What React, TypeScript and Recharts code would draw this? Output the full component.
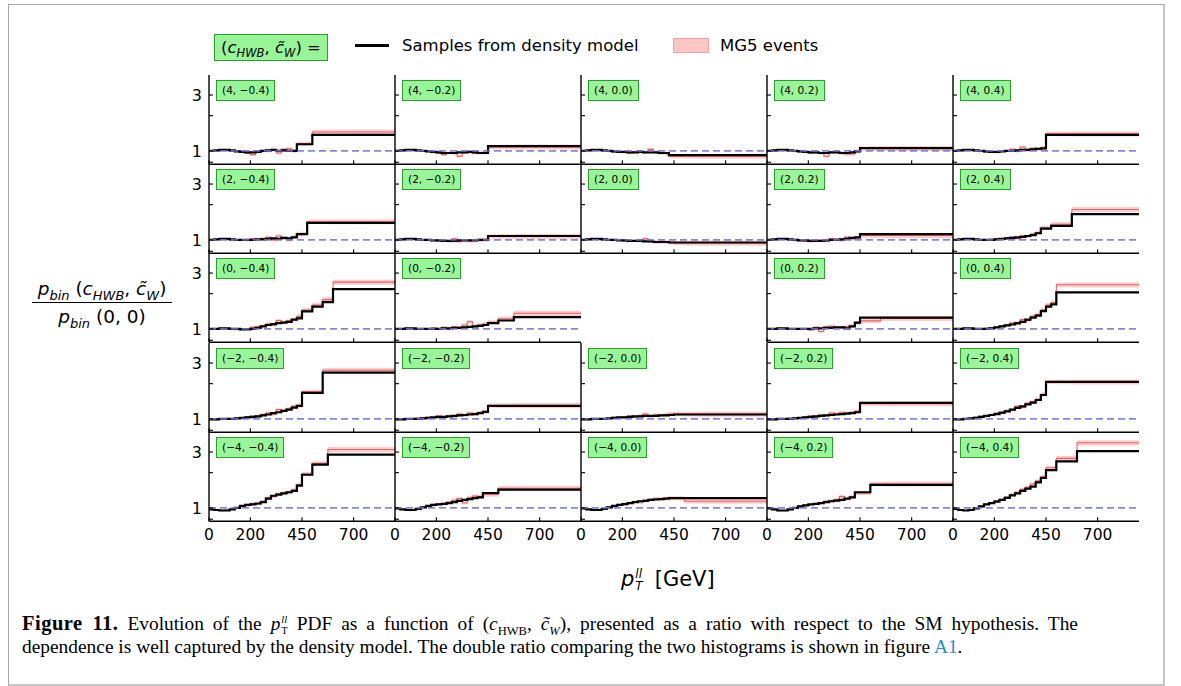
import React from 'react';
import { ComposedChart, Line, Area, XAxis, YAxis, ReferenceLine } from 'recharts';

// pT bin edges in GeV; the last bin runs up to the end of the axis
const binEdges = [0, 25, 50, 75, 100, 125, 150, 175, 200, 225, 250, 275, 300, 325, 350, 375, 400, 425, 450, 475, 500, 525, 550, 575, 600, 625];
const xMax = 900;
const xTicks = [0, 200, 450, 700];
const yTicks = [0.8, 1, 2, 3];
const yLabelled = [1, 3];
const yDomain: [number, number] = [0.77, 4.45];

const cHWBValues = [4, 2, 0, -2, -4];
const cWValues = [-0.4, -0.2, 0.0, 0.2, 0.4];

// relative MG5 statistical uncertainty per bin
const mg5RelErr = [0.02, 0.02, 0.02, 0.02, 0.02, 0.02, 0.02, 0.02, 0.025, 0.025, 0.025, 0.03, 0.03, 0.03, 0.035, 0.035, 0.035, 0.04, 0.04, 0.04, 0.045, 0.045, 0.045, 0.05, 0.05, 0.05];

// ratio to SM, per bin: density model samples and MG5 events
const model_4_m04 = [1.0, 1.01, 1.02, 1.02, 1.01, 0.99, 0.98, 0.97, 0.97, 0.98, 1.0, 1.01, 1.02, 1.0, 1.01, 1.0, 1.0, 1.14, 1.14, 1.14, 1.37, 1.37, 1.37, 1.37, 1.37, 1.37];
const mg5_4_m04 = [1.0, 1.01, 1.02, 1.01, 1.0, 0.99, 0.98, 0.96, 0.93, 0.97, 1.0, 1.0, 1.02, 0.96, 1.03, 1.04, 1.0, 1.15, 1.15, 1.15, 1.45, 1.45, 1.45, 1.45, 1.45, 1.45];
const model_4_m02 = [1.0, 1.01, 1.02, 1.02, 1.01, 1.0, 0.99, 0.98, 0.97, 0.96, 0.96, 0.96, 0.97, 0.97, 0.98, 0.97, 0.96, 0.96, 1.1, 1.1, 1.1, 1.1, 1.1, 1.1, 1.1, 1.1];
const mg5_4_m02 = [1.0, 1.01, 1.02, 1.01, 1.0, 1.0, 0.99, 0.97, 0.96, 0.93, 0.97, 0.95, 0.9, 0.97, 0.98, 0.96, 0.97, 0.97, 1.08, 1.08, 1.08, 1.08, 1.08, 1.08, 1.08, 1.08];
const model_4_00 = [1.0, 1.01, 1.02, 1.02, 1.01, 1.0, 0.99, 0.98, 0.98, 0.97, 0.97, 0.98, 0.97, 0.97, 0.97, 0.96, 0.96, 0.92, 0.92, 0.92, 0.92, 0.92, 0.92, 0.92, 0.92, 0.92];
const mg5_4_00 = [1.0, 1.01, 1.02, 1.01, 1.0, 0.99, 0.98, 0.98, 0.97, 0.96, 0.97, 0.99, 0.97, 1.03, 0.97, 0.96, 0.95, 0.9, 0.9, 0.9, 0.9, 0.9, 0.9, 0.9, 0.9, 0.9];
const model_4_p02 = [1.0, 1.01, 1.02, 1.02, 1.01, 1.0, 0.99, 0.98, 0.97, 0.97, 0.96, 0.96, 0.97, 0.97, 0.96, 0.96, 0.97, 0.99, 1.055, 1.055, 1.055, 1.055, 1.055, 1.055, 1.055, 1.055];
const mg5_4_p02 = [1.0, 1.01, 1.02, 1.01, 1.0, 0.99, 0.98, 0.98, 0.96, 0.97, 0.96, 0.9, 0.97, 0.98, 0.96, 0.94, 0.94, 0.99, 1.05, 1.05, 1.05, 1.05, 1.05, 1.05, 1.05, 1.05];
const model_4_p04 = [1.0, 1.01, 1.02, 1.02, 1.01, 1.0, 0.99, 0.98, 0.98, 0.99, 1.0, 1.0, 1.01, 1.02, 1.02, 1.03, 1.04, 1.05, 1.37, 1.37, 1.37, 1.37, 1.37, 1.37, 1.37, 1.37];
const mg5_4_p04 = [1.0, 1.01, 1.02, 1.01, 1.0, 0.99, 0.98, 0.98, 0.97, 1.0, 1.0, 1.03, 1.0, 1.08, 1.02, 1.05, 1.04, 1.06, 1.4, 1.4, 1.4, 1.4, 1.4, 1.4, 1.4, 1.4];

const model_2_m04 = [1.0, 1.01, 1.02, 1.02, 1.01, 1.0, 1.0, 1.0, 1.0, 1.01, 1.01, 1.02, 1.03, 1.02, 1.04, 1.03, 1.05, 1.12, 1.12, 1.4, 1.4, 1.4, 1.4, 1.4, 1.4, 1.4];
const mg5_2_m04 = [1.0, 1.01, 1.02, 1.01, 1.0, 1.0, 1.0, 0.99, 1.02, 1.01, 1.03, 1.05, 1.0, 1.08, 1.04, 1.0, 1.06, 1.13, 1.13, 1.43, 1.43, 1.43, 1.43, 1.43, 1.43, 1.43];
const model_2_m02 = [1.0, 1.01, 1.02, 1.02, 1.01, 1.0, 1.0, 0.99, 0.99, 0.98, 0.98, 0.98, 0.99, 0.99, 0.99, 0.99, 1.0, 1.0, 1.08, 1.08, 1.08, 1.08, 1.08, 1.08, 1.08, 1.08];
const mg5_2_m02 = [1.0, 1.01, 1.02, 1.01, 1.0, 1.0, 0.99, 0.99, 0.98, 0.99, 0.97, 1.02, 0.97, 0.99, 0.98, 0.99, 1.0, 1.0, 1.07, 1.07, 1.07, 1.07, 1.07, 1.07, 1.07, 1.07];
const model_2_00 = [1.0, 1.01, 1.02, 1.02, 1.01, 1.0, 1.0, 0.99, 0.99, 0.98, 0.98, 0.98, 0.97, 0.97, 0.96, 0.96, 0.96, 0.95, 0.95, 0.95, 0.95, 0.95, 0.95, 0.95, 0.95, 0.95];
const mg5_2_00 = [1.0, 1.01, 1.02, 1.01, 1.0, 1.0, 0.99, 0.99, 0.98, 0.98, 0.98, 1.0, 1.02, 0.97, 0.96, 0.96, 0.96, 0.95, 0.94, 0.94, 0.94, 0.94, 0.94, 0.94, 0.94, 0.94];
const model_2_p02 = [1.0, 1.01, 1.02, 1.02, 1.01, 1.0, 0.99, 0.99, 0.98, 0.98, 0.98, 0.99, 1.0, 1.0, 1.01, 1.02, 1.04, 1.05, 1.12, 1.12, 1.12, 1.12, 1.12, 1.12, 1.12, 1.12];
const mg5_2_p02 = [1.0, 1.01, 1.02, 1.01, 1.0, 0.99, 0.99, 0.98, 0.97, 0.98, 0.99, 0.98, 1.02, 1.01, 1.0, 1.05, 1.02, 1.04, 1.09, 1.09, 1.09, 1.09, 1.09, 1.09, 1.09, 1.09];
const model_2_p04 = [1.0, 1.01, 1.02, 1.02, 1.01, 1.0, 1.0, 1.0, 1.01, 1.02, 1.03, 1.04, 1.05, 1.06, 1.08, 1.1, 1.14, 1.25, 1.25, 1.32, 1.32, 1.32, 1.32, 1.66, 1.66, 1.66];
const mg5_2_p04 = [1.0, 1.01, 1.02, 1.01, 1.0, 1.0, 1.0, 1.01, 1.02, 1.01, 1.04, 1.05, 1.03, 1.08, 1.07, 1.12, 1.15, 1.27, 1.27, 1.36, 1.36, 1.36, 1.36, 1.82, 1.82, 1.82];

const model_0_m04 = [1.0, 1.0, 1.01, 1.01, 1.0, 1.0, 0.99, 0.99, 1.0, 1.02, 1.05, 1.08, 1.1, 1.12, 1.13, 1.15, 1.2, 1.23, 1.41, 1.41, 1.55, 1.55, 1.69, 1.69, 2.19, 2.19];
const mg5_0_m04 = [1.0, 1.0, 1.01, 1.0, 1.0, 0.99, 0.99, 1.0, 1.03, 1.04, 1.06, 1.1, 1.08, 1.18, 1.14, 1.17, 1.2, 1.28, 1.45, 1.45, 1.6, 1.6, 1.78, 1.78, 2.51, 2.51];
const model_0_m02 = [1.0, 1.0, 1.01, 1.01, 1.0, 1.0, 1.0, 1.0, 1.0, 1.01, 1.01, 1.02, 1.02, 1.03, 1.04, 1.05, 1.06, 1.08, 1.12, 1.12, 1.18, 1.18, 1.18, 1.26, 1.26, 1.26];
const mg5_0_m02 = [1.0, 1.0, 1.01, 1.0, 1.0, 1.0, 1.0, 1.02, 1.0, 1.03, 1.0, 1.04, 1.03, 1.08, 1.15, 1.05, 1.08, 1.1, 1.14, 1.14, 1.22, 1.22, 1.22, 1.36, 1.36, 1.36];
const model_0_p02 = [1.0, 1.0, 1.01, 1.01, 1.0, 1.0, 1.0, 1.0, 1.0, 1.01, 1.01, 1.02, 1.02, 1.03, 1.03, 1.01, 1.05, 1.13, 1.25, 1.25, 1.25, 1.25, 1.25, 1.25, 1.25, 1.25];
const mg5_0_p02 = [1.0, 1.0, 1.01, 1.0, 1.0, 1.0, 0.99, 1.0, 0.98, 1.03, 0.95, 1.04, 1.05, 1.02, 1.03, 1.04, 1.06, 1.12, 1.17, 1.17, 1.17, 1.17, 1.23, 1.23, 1.23, 1.23];
const model_0_p04 = [1.0, 1.0, 1.01, 1.01, 1.0, 1.0, 1.0, 1.01, 1.03, 1.05, 1.07, 1.09, 1.12, 1.15, 1.2, 1.25, 1.3, 1.42, 1.55, 1.62, 2.05, 2.05, 2.05, 2.05, 2.05, 2.05];
const mg5_0_p04 = [1.0, 1.0, 1.01, 1.0, 1.0, 1.0, 1.01, 1.02, 1.03, 1.06, 1.08, 1.12, 1.1, 1.2, 1.18, 1.28, 1.32, 1.45, 1.6, 1.68, 2.38, 2.38, 2.38, 2.38, 2.38, 2.38];

const model_m2_m04 = [0.99, 0.99, 1.0, 1.0, 1.0, 1.01, 1.02, 1.03, 1.04, 1.05, 1.07, 1.09, 1.12, 1.14, 1.17, 1.2, 1.25, 1.29, 1.67, 1.67, 1.67, 1.67, 2.48, 2.48, 2.48, 2.48];
const mg5_m2_m04 = [0.99, 0.99, 1.0, 1.0, 1.0, 1.01, 1.02, 1.04, 1.05, 1.06, 1.09, 1.12, 1.1, 1.2, 1.18, 1.22, 1.28, 1.3, 1.7, 1.7, 1.7, 1.7, 2.6, 2.6, 2.6, 2.6];
const model_m2_m02 = [0.99, 0.99, 1.0, 1.0, 1.0, 1.01, 1.02, 1.03, 1.04, 1.04, 1.05, 1.06, 1.07, 1.08, 1.09, 1.1, 1.12, 1.15, 1.29, 1.29, 1.29, 1.29, 1.29, 1.29, 1.29, 1.29];
const mg5_m2_m02 = [0.99, 0.99, 1.0, 1.0, 1.01, 1.02, 1.03, 1.03, 1.06, 1.04, 1.06, 1.05, 1.1, 1.07, 1.12, 1.1, 1.13, 1.15, 1.3, 1.3, 1.3, 1.3, 1.3, 1.3, 1.3, 1.3];
const model_m2_00 = [0.99, 0.99, 1.0, 1.0, 1.0, 1.01, 1.02, 1.03, 1.03, 1.04, 1.05, 1.05, 1.06, 1.06, 1.06, 1.07, 1.07, 1.08, 1.09, 1.09, 1.09, 1.09, 1.09, 1.09, 1.09, 1.09];
const mg5_m2_00 = [0.99, 0.99, 1.0, 1.0, 1.0, 1.01, 1.03, 1.03, 1.04, 1.06, 1.04, 1.07, 1.1, 1.05, 1.08, 1.07, 1.09, 1.1, 1.1, 1.1, 1.1, 1.1, 1.1, 1.1, 1.1, 1.1];
const model_m2_p02 = [0.99, 0.99, 1.0, 1.0, 1.0, 1.01, 1.02, 1.03, 1.04, 1.05, 1.06, 1.07, 1.08, 1.09, 1.1, 1.11, 1.12, 1.14, 1.37, 1.37, 1.37, 1.37, 1.37, 1.37, 1.37, 1.37];
const mg5_m2_p02 = [0.99, 0.99, 1.0, 1.0, 1.01, 1.02, 1.02, 1.04, 1.06, 1.04, 1.08, 1.07, 1.12, 1.1, 1.13, 1.12, 1.14, 1.16, 1.35, 1.35, 1.35, 1.35, 1.35, 1.35, 1.35, 1.35];
const model_m2_p04 = [0.99, 0.99, 1.0, 1.01, 1.02, 1.04, 1.06, 1.08, 1.1, 1.13, 1.16, 1.2, 1.24, 1.28, 1.33, 1.38, 1.45, 1.6, 2.07, 2.07, 2.07, 2.07, 2.07, 2.07, 2.07, 2.07];
const mg5_m2_p04 = [0.99, 0.99, 1.0, 1.01, 1.03, 1.05, 1.06, 1.09, 1.12, 1.12, 1.18, 1.2, 1.28, 1.26, 1.36, 1.4, 1.47, 1.62, 2.07, 2.07, 2.07, 2.07, 2.07, 2.07, 2.07, 2.07];

const model_m4_m04 = [0.97, 0.96, 0.95, 0.95, 0.97, 1.0, 1.04, 1.06, 1.07, 1.09, 1.12, 1.2, 1.27, 1.3, 1.33, 1.36, 1.4, 1.55, 1.92, 1.92, 2.34, 2.34, 2.34, 2.85, 2.85, 2.85];
const mg5_m4_m04 = [0.97, 0.96, 0.95, 0.96, 0.97, 1.0, 1.04, 1.07, 1.09, 1.08, 1.14, 1.22, 1.25, 1.32, 1.34, 1.36, 1.42, 1.58, 1.95, 1.95, 2.4, 2.4, 2.4, 3.15, 3.15, 3.15];
const model_m4_m02 = [0.99, 0.97, 0.96, 0.96, 0.98, 1.01, 1.04, 1.06, 1.07, 1.08, 1.1, 1.12, 1.15, 1.17, 1.19, 1.21, 1.23, 1.34, 1.34, 1.34, 1.43, 1.43, 1.43, 1.43, 1.43, 1.43];
const mg5_m4_m02 = [0.99, 0.97, 0.96, 0.96, 0.98, 1.01, 1.04, 1.07, 1.08, 1.1, 1.12, 1.16, 1.2, 1.1, 1.22, 1.26, 1.25, 1.3, 1.3, 1.3, 1.47, 1.47, 1.47, 1.47, 1.47, 1.47];
const model_m4_00 = [0.99, 0.97, 0.96, 0.96, 0.98, 1.01, 1.04, 1.06, 1.08, 1.1, 1.12, 1.14, 1.15, 1.17, 1.18, 1.19, 1.2, 1.21, 1.21, 1.21, 1.21, 1.21, 1.21, 1.21, 1.21, 1.21];
const mg5_m4_00 = [0.99, 0.97, 0.96, 0.96, 0.98, 1.01, 1.04, 1.07, 1.06, 1.1, 1.13, 1.12, 1.16, 1.18, 1.2, 1.19, 1.21, 1.21, 1.21, 1.21, 1.14, 1.14, 1.14, 1.14, 1.14, 1.14];
const model_m4_p02 = [0.99, 0.97, 0.95, 0.95, 0.97, 1.0, 1.03, 1.05, 1.07, 1.08, 1.1, 1.12, 1.14, 1.155, 1.17, 1.2, 1.23, 1.36, 1.36, 1.36, 1.57, 1.57, 1.57, 1.57, 1.57, 1.57];
const mg5_m4_p02 = [0.99, 0.97, 0.95, 0.95, 0.97, 1.0, 1.03, 1.06, 1.07, 1.1, 1.1, 1.14, 1.15, 1.18, 1.25, 1.2, 1.24, 1.34, 1.34, 1.34, 1.6, 1.6, 1.6, 1.6, 1.6, 1.6];
const model_m4_p04 = [0.98, 0.96, 0.95, 0.96, 0.99, 1.03, 1.07, 1.1, 1.13, 1.17, 1.22, 1.28, 1.33, 1.4, 1.46, 1.52, 1.65, 1.8, 2.1, 2.1, 2.5, 2.5, 2.5, 2.5, 3.05, 3.05];
const mg5_m4_p04 = [0.98, 0.96, 0.95, 0.96, 0.99, 1.03, 1.08, 1.1, 1.15, 1.18, 1.24, 1.3, 1.36, 1.44, 1.5, 1.6, 1.7, 1.85, 2.2, 2.2, 2.65, 2.65, 2.65, 2.65, 3.6, 3.6];

// (row, col) -> series; the SM point (0, 0) has no panel
const panelSeries: Record<string, { model: number[]; mg5: number[] }> = {
  '0,0': { model: model_4_m04, mg5: mg5_4_m04 },
  '0,1': { model: model_4_m02, mg5: mg5_4_m02 },
  '0,2': { model: model_4_00, mg5: mg5_4_00 },
  '0,3': { model: model_4_p02, mg5: mg5_4_p02 },
  '0,4': { model: model_4_p04, mg5: mg5_4_p04 },
  '1,0': { model: model_2_m04, mg5: mg5_2_m04 },
  '1,1': { model: model_2_m02, mg5: mg5_2_m02 },
  '1,2': { model: model_2_00, mg5: mg5_2_00 },
  '1,3': { model: model_2_p02, mg5: mg5_2_p02 },
  '1,4': { model: model_2_p04, mg5: mg5_2_p04 },
  '2,0': { model: model_0_m04, mg5: mg5_0_m04 },
  '2,1': { model: model_0_m02, mg5: mg5_0_m02 },
  '2,3': { model: model_0_p02, mg5: mg5_0_p02 },
  '2,4': { model: model_0_p04, mg5: mg5_0_p04 },
  '3,0': { model: model_m2_m04, mg5: mg5_m2_m04 },
  '3,1': { model: model_m2_m02, mg5: mg5_m2_m02 },
  '3,2': { model: model_m2_00, mg5: mg5_m2_00 },
  '3,3': { model: model_m2_p02, mg5: mg5_m2_p02 },
  '3,4': { model: model_m2_p04, mg5: mg5_m2_p04 },
  '4,0': { model: model_m4_m04, mg5: mg5_m4_m04 },
  '4,1': { model: model_m4_m02, mg5: mg5_m4_m02 },
  '4,2': { model: model_m4_00, mg5: mg5_m4_00 },
  '4,3': { model: model_m4_p02, mg5: mg5_m4_p02 },
  '4,4': { model: model_m4_p04, mg5: mg5_m4_p04 },
};

const GRID_LEFT = 209;
const GRID_TOP = 75;
const PANEL_W = 186;
const PANEL_H = 89.2;
const AXIS_W = 40;
const AXIS_H = 28;
const PAD = 2;

const sans = '"DejaVu Sans", sans-serif';
const serif = '"Liberation Serif", serif';
const boxGreen = '#98f598';
const boxEdge = '#2c9c2c';

const fmtNum = (v: number, digits: number) => {
  const s = v.toFixed(digits);
  return v < 0 ? '\u2212' + s.slice(1) : s;
};

const LeftTick = (show: boolean) => (props: any) => {
  const { x, y, payload } = props;
  if (!show || !yLabelled.includes(payload.value)) return <g />;
  return (
    <text x={x} y={y} dy="0.36em" textAnchor="end" fontSize={16} fontFamily={sans} fill="#000">
      {payload.value}
    </text>
  );
};

const BottomTick = (show: boolean) => (props: any) => {
  const { x, y, payload } = props;
  if (!show) return <g />;
  return (
    <text x={x} y={y} dy="0.72em" textAnchor="middle" fontSize={15.5} fontFamily={sans} fill="#000">
      {payload.value}
    </text>
  );
};

function Panel({ row, col }: { row: number; col: number }) {
  const series = panelSeries[`${row},${col}`];
  if (!series) return null;
  const rows: any[] = binEdges.map((x, i) => ({
    x,
    model: series.model[i],
    mg5: series.mg5[i],
    band: [series.mg5[i] * (1 - mg5RelErr[i]), series.mg5[i] * (1 + mg5RelErr[i])],
  }));
  rows.push({ ...rows[rows.length - 1], x: xMax });

  const left = GRID_LEFT + col * PANEL_W;
  const top = GRID_TOP + row * PANEL_H;
  const label = `(${fmtNum(cHWBValues[row], 0)}, ${fmtNum(cWValues[col], 1)})`;
  const axisStroke = { stroke: '#000', strokeWidth: 1.4 };
  const tickStroke = { stroke: '#000', strokeWidth: 1.1 };

  return (
    <>
      <div style={{ position: 'absolute', left: left - AXIS_W, top: top - PAD }}>
        <ComposedChart
          width={AXIS_W + PANEL_W + PAD}
          height={PANEL_H + AXIS_H + PAD}
          data={rows}
          margin={{ top: PAD, right: PAD, bottom: 0, left: 0 }}
        >
          <XAxis
            xAxisId="b"
            type="number"
            dataKey="x"
            domain={[0, xMax]}
            ticks={xTicks}
            interval={0}
            allowDataOverflow
            height={AXIS_H}
            tickSize={-4}
            tickMargin={12}
            axisLine={axisStroke}
            tickLine={tickStroke}
            tick={BottomTick(row === 4)}
          />
          <XAxis
            xAxisId="t"
            orientation="top"
            type="number"
            dataKey="x"
            domain={[0, xMax]}
            ticks={xTicks}
            interval={0}
            allowDataOverflow
            height={0}
            tickSize={-4}
            axisLine={axisStroke}
            tickLine={tickStroke}
            tick={false}
          />
          <YAxis
            yAxisId="l"
            scale="log"
            domain={yDomain}
            ticks={yTicks}
            interval={0}
            allowDataOverflow
            width={AXIS_W}
            tickSize={-4}
            tickMargin={11}
            axisLine={axisStroke}
            tickLine={tickStroke}
            tick={LeftTick(col === 0)}
          />
          <YAxis
            yAxisId="r"
            orientation="right"
            scale="log"
            domain={yDomain}
            ticks={yTicks}
            interval={0}
            allowDataOverflow
            width={0}
            tickSize={-4}
            axisLine={axisStroke}
            tickLine={tickStroke}
            tick={false}
          />
          <Area
            xAxisId="b"
            yAxisId="l"
            type="stepAfter"
            dataKey="band"
            stroke="none"
            fill="#ffb0b0"
            fillOpacity={0.65}
            isAnimationActive={false}
          />
          <Line
            xAxisId="t"
            yAxisId="r"
            type="stepAfter"
            dataKey="mg5"
            stroke="#e0666a"
            strokeWidth={1.1}
            dot={false}
            isAnimationActive={false}
          />
          <Line
            xAxisId="b"
            yAxisId="l"
            type="stepAfter"
            dataKey="model"
            stroke="#000"
            strokeWidth={2.2}
            dot={false}
            isAnimationActive={false}
          />
          <ReferenceLine
            xAxisId="b"
            yAxisId="l"
            y={1}
            stroke="#7272cc"
            strokeOpacity={0.85}
            strokeWidth={1.9}
            strokeDasharray="7 4"
          />
        </ComposedChart>
      </div>
      <div
        style={{
          position: 'absolute',
          left: left + 7,
          top: top + 5,
          height: 19,
          padding: '0 5px',
          background: boxGreen,
          border: `1px solid ${boxEdge}`,
          fontFamily: sans,
          fontSize: 10.6,
          lineHeight: '19px',
          whiteSpace: 'nowrap',
          color: '#000',
        }}
      >
        {label}
      </div>
    </>
  );
}

const I = ({ children }: { children: React.ReactNode }) => <span style={{ fontStyle: 'italic' }}>{children}</span>;

const CouplingPair = ({ sub }: { sub: number }) => (
  <>
    (<I>c</I>
    <sub style={{ fontSize: sub, lineHeight: 0 }}>
      <I>HWB</I>
    </sub>
    , <I>c&#771;</I>
    <sub style={{ fontSize: sub, lineHeight: 0 }}>
      <I>W</I>
    </sub>
    )
  </>
);

// p_T^ll with the two indices stacked
const PtLL = ({ size, sub, italicT }: { size: number; sub: number; italicT: boolean }) => (
  <span style={{ whiteSpace: 'nowrap', fontSize: size }}>
    <I>p</I>
    <span
      style={{
        display: 'inline-block',
        verticalAlign: 'middle',
        fontSize: sub,
        lineHeight: `${sub}px`,
        marginLeft: 1,
        textAlign: 'left',
      }}
    >
      <span style={{ display: 'block', fontStyle: 'italic' }}>ll</span>
      <span style={{ display: 'block', fontStyle: italicT ? 'italic' : 'normal' }}>T</span>
    </span>
  </span>
);

export default function App() {
  const cells: React.ReactNode[] = [];
  for (let r = 0; r < 5; r++) for (let c = 0; c < 5; c++) cells.push(<Panel key={`${r}-${c}`} row={r} col={c} />);

  return (
    <div style={{ position: 'fixed', left: 0, top: 0, width: 1181, height: 686, background: '#fff', overflow: 'hidden' }}>
      <div
        style={{
          position: 'absolute',
          left: 8,
          top: 4,
          width: 1154,
          height: 679,
          borderTop: '1px solid #a8a8a8',
          borderLeft: '1px solid #a8a8a8',
          borderRight: '2px solid #c8c8c8',
          borderBottom: '2px solid #c8c8c8',
        }}
      />

      {/* legend */}
      <div
        style={{
          position: 'absolute',
          left: 214,
          top: 34,
          height: 25,
          padding: '0 6px',
          background: boxGreen,
          border: `1px solid ${boxEdge}`,
          fontFamily: sans,
          fontSize: 16.5,
          lineHeight: '25px',
          whiteSpace: 'nowrap',
        }}
      >
        <CouplingPair sub={11.5} /> =
      </div>
      <div style={{ position: 'absolute', left: 355, top: 44, width: 34, height: 3, background: '#000' }} />
      <div style={{ position: 'absolute', left: 402, top: 35, fontFamily: sans, fontSize: 16.5, lineHeight: '21px', whiteSpace: 'nowrap' }}>
        Samples from density model
      </div>
      <div
        style={{ position: 'absolute', left: 673, top: 38, width: 34, height: 13, background: '#ffc6c6', border: '1px solid #f2a2a2' }}
      />
      <div style={{ position: 'absolute', left: 720, top: 35, fontFamily: sans, fontSize: 16.5, lineHeight: '21px', whiteSpace: 'nowrap' }}>
        MG5 events
      </div>

      {cells}

      {/* y axis title */}
      <div style={{ position: 'absolute', left: 28, top: 275, width: 148, fontFamily: sans, fontSize: 18.5, textAlign: 'center', whiteSpace: 'nowrap' }}>
        <div style={{ height: 27, lineHeight: '27px' }}>
          <I>p</I>
          <sub style={{ fontSize: 13, lineHeight: 0 }}>
            <I>bin</I>
          </sub>{' '}
          <CouplingPair sub={13} />
        </div>
        <div style={{ borderTop: '1.4px solid #000', height: 27, lineHeight: '27px', marginLeft: 4, marginRight: 4 }}>
          <I>p</I>
          <sub style={{ fontSize: 13, lineHeight: 0 }}>
            <I>bin</I>
          </sub>{' '}
          (0, 0)
        </div>
      </div>

      {/* x axis title */}
      <div style={{ position: 'absolute', left: 621, top: 564, height: 30, fontFamily: sans, fontSize: 21, lineHeight: '30px', whiteSpace: 'nowrap' }}>
        <PtLL size={21} sub={12} italicT />
        <span style={{ marginLeft: 12 }}>[GeV]</span>
      </div>

      {/* caption */}
      <div style={{ position: 'absolute', left: 22, top: 612, fontFamily: serif, fontSize: 19.4, color: '#000' }}>
        <div style={{ width: 1056, height: 23, lineHeight: '23px', textAlign: 'justify', textAlignLast: 'justify', whiteSpace: 'nowrap' }}>
          <b style={{ fontSize: 20.5, letterSpacing: 0.5 }}>Figure 11.</b> Evolution of the <PtLL size={19.4} sub={10.5} italicT={false} /> PDF as a function of (<I>c</I>
          <sub style={{ fontSize: 12.5, lineHeight: 0 }}>HWB</sub>, <I>c&#771;</I>
          <sub style={{ fontSize: 12.5, lineHeight: 0 }}>
            <I>W</I>
          </sub>
          ), presented as a ratio with respect to the SM hypothesis. The
        </div>
        <div style={{ height: 23, lineHeight: '23px', whiteSpace: 'nowrap' }}>
          dependence is well captured by the density model. The double ratio comparing the two histograms is shown in figure{' '}
          <span style={{ color: '#2a8bcf' }}>A1</span>.
        </div>
      </div>
    </div>
  );
}
